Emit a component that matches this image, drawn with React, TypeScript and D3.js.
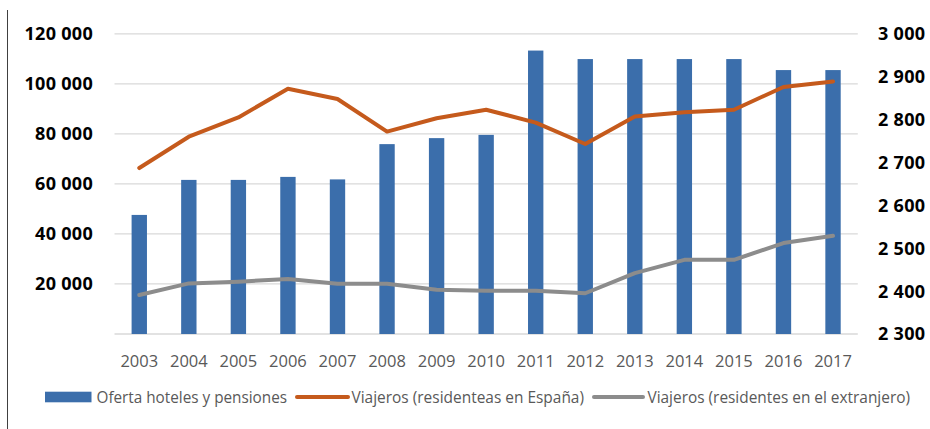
import React from "react";
import * as d3 from "d3";

const years = ["2003","2004","2005","2006","2007","2008","2009","2010","2011","2012","2013","2014","2015","2016","2017"];
const oferta = [47600,61600,61600,62800,61800,75900,78300,79600,113300,109900,109900,109900,109900,105500,105500];
const viajerosEspana = [2687,2760,2805,2872,2848,2772,2803,2823,2793,2743,2807,2817,2823,2876,2889];
const viajerosExtranjero = [2391,2418,2422,2428,2417,2417,2403,2401,2401,2395,2442,2473,2473,2512,2529];
const leftTicks = [20000,40000,60000,80000,100000,120000];
const rightTicks = [2300,2400,2500,2600,2700,2800,2900,3000];
const gridTicks = [0,20000,40000,60000,80000,100000,120000];
const legendLabels = ["Oferta hoteles y pensiones","Viajeros (residenteas en España)","Viajeros (residentes en el extranjero)"];

const W = 930, H = 429;
const BLUE = "#3B6EAB";
const ORANGE = "#C55A1C";
const GRAY = "#8C8C8C";

const fmt = d3.formatLocale({ decimal: ",", thousands: " ", grouping: [3], currency: ["", ""] }).format(",d");

export default function App() {
  const x0 = 114.5, x1 = 857.8, yTop = 33.8, yBot = 334;
  const x = d3.scaleBand<string>().domain(years).range([x0, x1]).paddingInner(0.69).paddingOuter(0.345);
  const yL = d3.scaleLinear().domain([0, 120000]).range([yBot, yTop]);
  const yR = d3.scaleLinear().domain([2300, 3000]).range([yBot, yTop]);
  const cx = (d: string) => (x(d) as number) + x.bandwidth() / 2;
  const line = d3.line<number>().x((_, i) => cx(years[i])).y(v => yR(v));

  return (
    <svg width={W} height={H} style={{ position: "absolute", left: 0, top: 0, background: "#fff" }}>
      <rect x={0} y={0} width={W} height={H} fill="#fff" />
      <line x1={7.5} x2={7.5} y1={10} y2={H} stroke="#404040" strokeWidth={1} />
      {gridTicks.map(t => (
        <line key={t} x1={x0} x2={x1} y1={yL(t)} y2={yL(t)} stroke="#D9D9D9" strokeWidth={1.3} />
      ))}
      {years.map((yr, i) => (
        <rect key={yr} x={x(yr)} y={yL(oferta[i])} width={x.bandwidth()} height={yBot - yL(oferta[i])} fill={BLUE} />
      ))}
      <path d={line(viajerosEspana) || ""} fill="none" stroke={ORANGE} strokeWidth={4} strokeLinejoin="round" strokeLinecap="round" />
      <path d={line(viajerosExtranjero) || ""} fill="none" stroke={GRAY} strokeWidth={4} strokeLinejoin="round" strokeLinecap="round" />
      {leftTicks.map(t => (
        <text key={t} x={93} y={yL(t)} dy="0.36em" textAnchor="end" fontFamily="Open Sans" fontWeight={700} fontSize={18} fill="#000" letterSpacing={0.3}>{fmt(t)}</text>
      ))}
      {rightTicks.map(t => (
        <text key={t} x={878} y={yR(t)} dy="0.36em" textAnchor="start" fontFamily="Open Sans" fontWeight={700} fontSize={18} fill="#000" letterSpacing={0.3}>{fmt(t)}</text>
      ))}
      {years.map(yr => (
        <text key={yr} x={cx(yr)} y={361} dy="0.36em" textAnchor="middle" fontFamily="Open Sans" fontSize={16.5} fill="#595959">{yr}</text>
      ))}
      <g>
        <rect x={45} y={391.7} width={46.5} height={10.6} fill={BLUE} />
        <text x={96.5} y={397} dy="0.36em" fontFamily="Open Sans" fontSize={16} fill="#595959" textLength={190.5} lengthAdjust="spacingAndGlyphs">{legendLabels[0]}</text>
        <line x1={297} x2={348} y1={397} y2={397} stroke={ORANGE} strokeWidth={4} strokeLinecap="round" />
        <text x={351.5} y={397} dy="0.36em" fontFamily="Open Sans" fontSize={16} fill="#595959" textLength={232.5} lengthAdjust="spacingAndGlyphs">{legendLabels[1]}</text>
        <line x1={594} x2={643} y1={397} y2={397} stroke={GRAY} strokeWidth={4} strokeLinecap="round" />
        <text x={647.5} y={397} dy="0.36em" fontFamily="Open Sans" fontSize={16} fill="#595959" textLength={262.5} lengthAdjust="spacingAndGlyphs">{legendLabels[2]}</text>
      </g>
    </svg>
  );
}
